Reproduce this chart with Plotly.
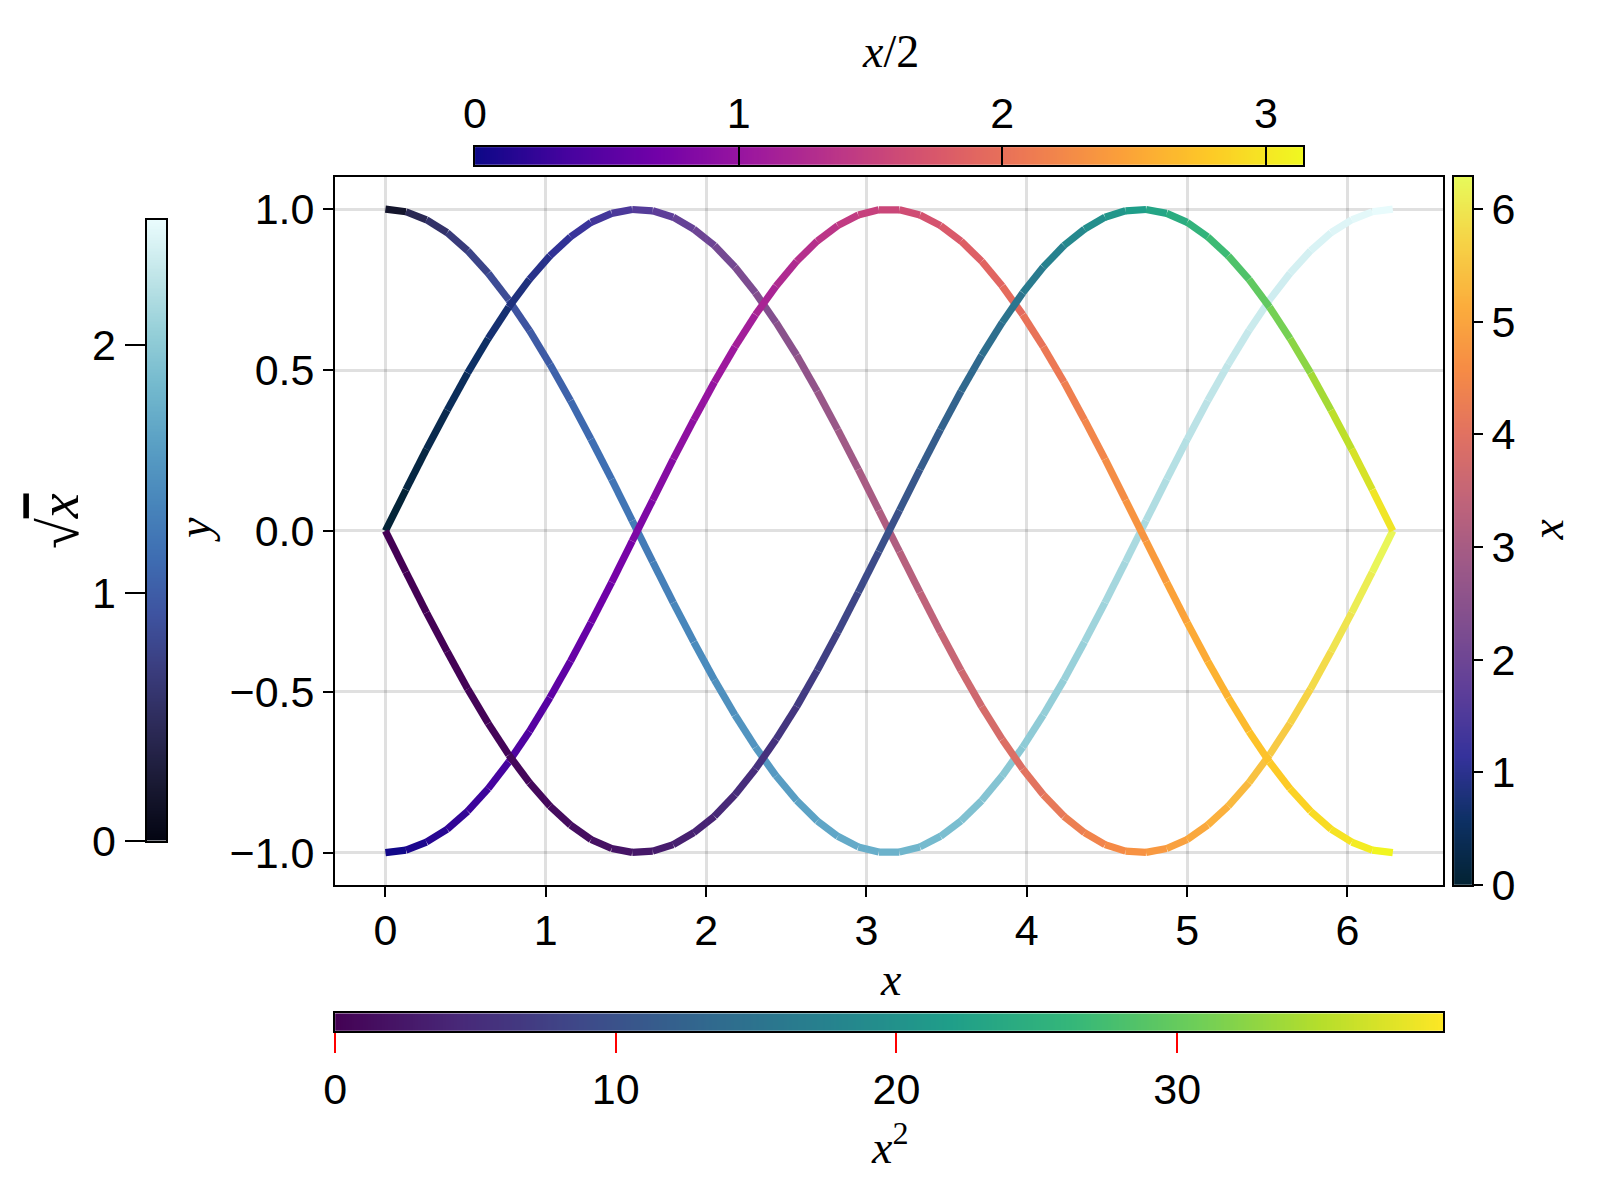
import math
import numpy as np
import plotly.graph_objects as go
import plotly.colors as pc

# Datos de las curvas (50 puntos entre 0 y 2π)
x_vals = [0.000, 0.128, 0.256, 0.385, 0.513, 0.641, 0.769, 0.898, 1.026, 1.154,
          1.282, 1.411, 1.539, 1.667, 1.795, 1.923, 2.052, 2.180, 2.308, 2.436,
          2.565, 2.693, 2.821, 2.949, 3.077, 3.206, 3.334, 3.462, 3.590, 3.719,
          3.847, 3.975, 4.103, 4.232, 4.360, 4.488, 4.616, 4.744, 4.873, 5.001,
          5.129, 5.257, 5.386, 5.514, 5.642, 5.770, 5.898, 6.027, 6.155, 6.283]

y_cos = [1.000, 0.992, 0.967, 0.927, 0.871, 0.801, 0.718, 0.623, 0.518, 0.405,
         0.285, 0.160, 0.032, -0.096, -0.223, -0.345, -0.463, -0.572, -0.672, -0.761,
         -0.838, -0.901, -0.949, -0.982, -0.998, -0.998, -0.982, -0.949, -0.901, -0.838,
         -0.761, -0.672, -0.572, -0.463, -0.345, -0.223, -0.096, 0.032, 0.160, 0.285,
         0.405, 0.518, 0.623, 0.718, 0.801, 0.871, 0.927, 0.967, 0.992, 1.000]

y_sin = [0.000, 0.128, 0.254, 0.375, 0.491, 0.598, 0.696, 0.782, 0.855, 0.914,
         0.959, 0.987, 0.999, 0.995, 0.975, 0.938, 0.887, 0.820, 0.740, 0.648,
         0.546, 0.434, 0.315, 0.191, 0.064, -0.064, -0.191, -0.315, -0.434, -0.546,
         -0.648, -0.740, -0.820, -0.887, -0.938, -0.975, -0.995, -0.999, -0.987, -0.959,
         -0.914, -0.855, -0.782, -0.696, -0.598, -0.491, -0.375, -0.254, -0.128, 0.000]

y_neg_sin = [0.000, -0.128, -0.254, -0.375, -0.491, -0.598, -0.696, -0.782, -0.855, -0.914,
             -0.959, -0.987, -0.999, -0.995, -0.975, -0.938, -0.887, -0.820, -0.740, -0.648,
             -0.546, -0.434, -0.315, -0.191, -0.064, 0.064, 0.191, 0.315, 0.434, 0.546,
             0.648, 0.740, 0.820, 0.887, 0.938, 0.975, 0.995, 0.999, 0.987, 0.959,
             0.914, 0.855, 0.782, 0.696, 0.598, 0.491, 0.375, 0.254, 0.128, 0.000]

y_neg_cos = [-1.000, -0.992, -0.967, -0.927, -0.871, -0.801, -0.718, -0.623, -0.518, -0.405,
             -0.285, -0.160, -0.032, 0.096, 0.223, 0.345, 0.463, 0.572, 0.672, 0.761,
             0.838, 0.901, 0.949, 0.982, 0.998, 0.998, 0.982, 0.949, 0.901, 0.838,
             0.761, 0.672, 0.572, 0.463, 0.345, 0.223, 0.096, -0.032, -0.160, -0.285,
             -0.405, -0.518, -0.623, -0.718, -0.801, -0.871, -0.927, -0.967, -0.992, -1.000]

# Ticks de los ejes y de las barras de color
ticks_y = [-1, -0.5, 0, 0.5, 1]
ticks_sqrt = [0, 1, 2]
ticks_x = [0, 1, 2, 3, 4, 5, 6]
ticks_mitad = [0, 1, 2, 3]
ticks_cuadrado = [0, 10, 20, 30]

# Valores de color de cada curva
c_sqrt = [math.sqrt(v) for v in x_vals]
c_x = list(x_vals)
c_mitad = [v / 2 for v in x_vals]
c_cuadrado = [v ** 2 for v in x_vals]

FUENTE = "Liberation Sans"
SERIF = "Liberation Serif"
ANCHO_LINEA = 7.2
ANCHO, ALTO = 1584, 1184   # la página añade 8 px de margen alrededor
MARGEN_PAGINA = 8


def px_x(p):
    return (p - MARGEN_PAGINA) / ANCHO


def px_y(p):
    return 1 - (p - MARGEN_PAGINA) / ALTO


def agregar_curva(fig, xs, ys, cs, escala):
    """Dibuja la curva por segmentos, cada uno con su color."""
    cmin, cmax = min(cs), max(cs)
    for i in range(len(xs) - 1):
        t = ((cs[i] + cs[i + 1]) / 2 - cmin) / (cmax - cmin)
        color = pc.sample_colorscale(escala, [t])[0]
        fig.add_trace(go.Scatter(
            x=xs[i:i + 2], y=ys[i:i + 2], mode="lines",
            line=dict(color=color, width=ANCHO_LINEA),
            showlegend=False, hoverinfo="skip", xaxis="x", yaxis="y",
        ))


def barra_color(fig, cs, escala, eje_x, eje_y, horizontal):
    """Barra de color dibujada como heatmap en sus propios ejes."""
    cmin, cmax = min(cs), max(cs)
    bordes = np.linspace(cmin, cmax, 401)
    medios = (bordes[:-1] + bordes[1:]) / 2
    if horizontal:
        hm = go.Heatmap(x=bordes, y=[0, 1], z=[medios], colorscale=escala,
                        zmin=cmin, zmax=cmax, showscale=False, hoverinfo="skip",
                        xaxis=eje_x, yaxis=eje_y)
    else:
        hm = go.Heatmap(x=[0, 1], y=bordes, z=[[m] for m in medios], colorscale=escala,
                        zmin=cmin, zmax=cmax, showscale=False, hoverinfo="skip",
                        xaxis=eje_x, yaxis=eje_y)
    fig.add_trace(hm)
    return cmin, cmax


fig = go.Figure()

agregar_curva(fig, x_vals, y_cos, c_sqrt, "ice")
agregar_curva(fig, x_vals, y_sin, c_x, "thermal")
agregar_curva(fig, x_vals, y_neg_cos, c_mitad, "plasma")
agregar_curva(fig, x_vals, y_neg_sin, c_cuadrado, "viridis")

r_mitad = barra_color(fig, c_mitad, "plasma", "x2", "y2", True)
r_x = barra_color(fig, c_x, "thermal", "x3", "y3", False)
r_sqrt = barra_color(fig, c_sqrt, "ice", "x4", "y4", False)
r_cuadrado = barra_color(fig, c_cuadrado, "viridis", "x5", "y5", True)

marco = dict(showline=True, mirror=True, linecolor="black", linewidth=2,
             showgrid=False, zeroline=False)
oculto = dict(marco, showticklabels=False, ticks="", range=[0, 1])

dom_x = [px_x(325.5), px_x(1442)]
dom_y = [px_y(903), px_y(180.5)]

fig.update_layout(
    width=ANCHO, height=ALTO,
    margin=dict(l=0, r=0, t=0, b=0),
    paper_bgcolor="white", plot_bgcolor="white",
    font=dict(family=FUENTE, size=43, color="black"),
    xaxis=dict(domain=dom_x, anchor="y", range=[-0.314, 6.597],
               tickvals=ticks_x, ticks="outside", ticklen=10, tickwidth=2,
               tickcolor="black", ticklabelstandoff=-3,
               showline=True, mirror=True, linecolor="black",
               linewidth=2, showgrid=True, gridcolor="rgba(0,0,0,0.12)",
               gridwidth=2.5, zeroline=False),
    yaxis=dict(domain=dom_y, anchor="x", range=[-1.1, 1.1],
               tickvals=ticks_y, tickformat=".1f",
               ticks="outside", ticklen=10, tickwidth=2, tickcolor="black",
               showline=True, mirror=True, linecolor="black", linewidth=2,
               showgrid=True, gridcolor="rgba(0,0,0,0.12)", gridwidth=2.5,
               zeroline=False),
    # barra superior x/2
    xaxis2=dict(marco, domain=[px_x(466.5), px_x(1301)], anchor="y2", side="top",
                range=list(r_mitad), tickvals=ticks_mitad, ticks="inside",
                ticklen=20, tickwidth=1.5, tickcolor="black"),
    yaxis2=dict(oculto, domain=[px_y(168), px_y(150)], anchor="x2"),
    # barra derecha x
    xaxis3=dict(oculto, domain=[px_x(1453), px_x(1471)], anchor="y3"),
    yaxis3=dict(marco, domain=dom_y, anchor="x3", side="right",
                range=list(r_x), tickvals=ticks_x, ticks="outside",
                ticklen=9, tickwidth=2, tickcolor="black"),
    # barra izquierda sqrt(x)
    xaxis4=dict(oculto, domain=[px_x(135.5), px_x(155.5)], anchor="y4"),
    yaxis4=dict(marco, domain=[px_y(858), px_y(224)], anchor="x4", side="left",
                range=list(r_sqrt), tickvals=ticks_sqrt, ticks="outside",
                ticklen=20, tickwidth=2, tickcolor="black"),
    # barra inferior x^2
    xaxis5=dict(marco, domain=dom_x, anchor="y5", side="bottom",
                range=list(r_cuadrado), tickvals=ticks_cuadrado, ticks="outside",
                ticklen=20, tickwidth=1.5, tickcolor="red"),
    yaxis5=dict(oculto, domain=[px_y(1052), px_y(1034)], anchor="x5"),
)

etiquetas = [
    ("<i>x</i>/2", 885, 52, 0, 46),
    ("<i>x</i>", 886, 1000, 0, 46),
    ("<i>x</i><sup>2</sup>", 885, 1168, 0, 46),
    ("<i>y</i>", 184, 540, -90, 46),
    ("√<span style='text-decoration:overline'><i>x</i></span>", 48, 532, -90, 56),
    ("<i>x</i>", 1547, 540, -90, 46),
]
for texto, px, py, ang, tam in etiquetas:
    fig.add_annotation(text=texto, x=px_x(px), y=px_y(py), xref="paper", yref="paper",
                       xanchor="center", yanchor="middle", showarrow=False,
                       textangle=ang, font=dict(family=SERIF, size=tam, color="black"))

fig.write_html("out.html")
